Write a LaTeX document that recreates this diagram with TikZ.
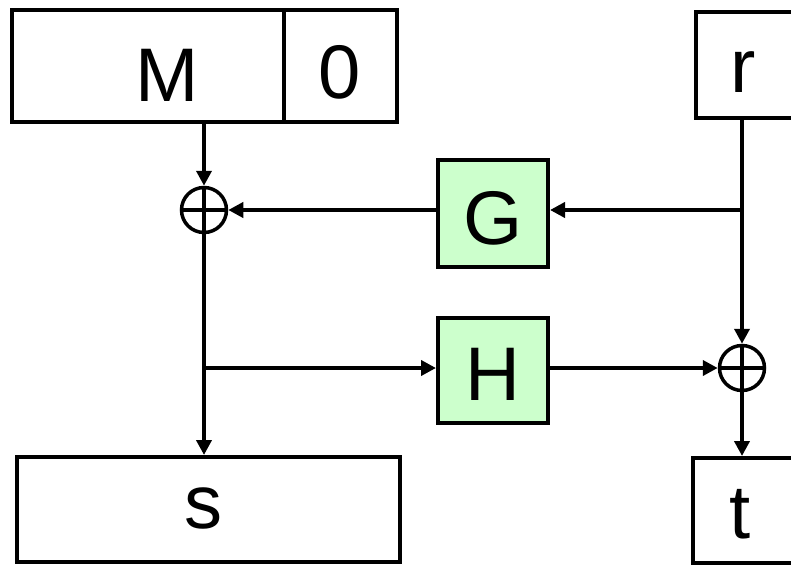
\documentclass[tikz,border=0pt]{standalone}
\usepackage{fontspec}
\setmainfont{Liberation Sans}
\usetikzlibrary{arrows.meta}
\begin{document}
\begin{tikzpicture}[x=1pt,y=-1pt,
  box/.style={draw, line width=4pt, inner sep=0pt},
  fbox/.style={box, fill=green!20},
  big/.style={font=\fontsize{76}{80}\selectfont},
  xorc/.style={draw, circle, line width=3.5pt, minimum size=45pt, inner sep=0pt},
  conn/.style={line width=4pt, -{Triangle[length=15pt,width=15pt]}},
  ln/.style={line width=3.5pt}]
\useasboundingbox (0,0) rectangle (791,564);
\clip (0,0) rectangle (791,564);
% boxes
\node[box, minimum width=272pt, minimum height=112pt] (M) at (148,66) {};
\node[big] (Mt) at (167,75) {M};
\node[box, minimum width=113pt, minimum height=112pt] (Z) at (340.5,66) {};
\node[big] (Zt) at (340,72) {0};
\node[box, minimum width=114pt, minimum height=106pt] (R) at (753,65) {};
\node[big] (Rt) at (743,72) {r};
\node[fbox, minimum width=110pt, minimum height=107pt] (G) at (493,213.5) {};
\node[big] (Gt) at (493,218) {G};
\node[fbox, minimum width=110pt, minimum height=105pt] (H) at (493,370.5) {};
\node[big] (Ht) at (493,374) {H};
\node[box, minimum width=383pt, minimum height=105pt] (S) at (208.5,509.5) {};
\node[big] (St) at (203,508) {s};
\node[box, minimum width=117pt, minimum height=105pt] (T) at (751.5,510.5) {};
\node[big] (Tt) at (740,514) {t};
% xor
\node[xorc] (X1) at (204,210) {};
\draw[ln] (X1.north) -- (X1.south) (X1.west) -- (X1.east);
\node[xorc] (X2) at (742,368) {};
\draw[ln] (X2.north) -- (X2.south) (X2.west) -- (X2.east);
% connectors
\coordinate (B1) at (X1 |- X2);
\coordinate (B2) at (X2 |- X1);
\draw[conn] (X1 |- M.south) -- (X1.north);
\draw[conn] (X1.south) -- (X1 |- S.north);
\draw[conn] (B1) -- (H.west |- X2);
\draw[conn] (H.east |- X2) -- (X2.west);
\draw[conn] (X2 |- R.south) -- (X2.north);
\draw[conn] (B2) -- (G.east |- X1);
\draw[conn] (G.west |- X1) -- (X1.east);
\draw[conn] (X2.south) -- (X2 |- T.north);
\end{tikzpicture}
\end{document}
